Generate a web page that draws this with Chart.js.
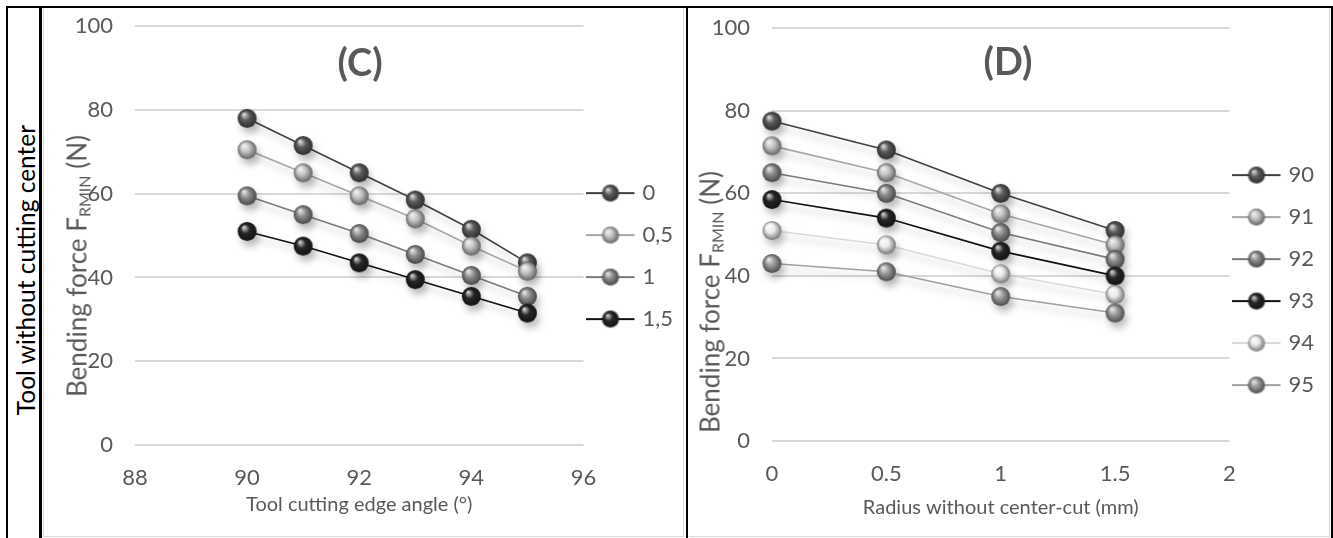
<!DOCTYPE html>
<html>
<head>
<meta charset="utf-8">
<script src="https://cdn.jsdelivr.net/npm/chart.js@4.4.0/dist/chart.umd.min.js"></script>
<style>
    html, body { margin: 0; padding: 0; background: #fff; }
    body { width: 1333px; height: 538px; position: relative; overflow: hidden; font-family: Lato, sans-serif; }
    .line { position: absolute; background: #000; }
    .gray { position: absolute; background: #d9d9d9; }
    .box { position: absolute; width: 639px; }
    .ytitle { position: absolute; transform: translate(-50%, -50%) rotate(-90deg); white-space: nowrap; color: #595959; font-size: 26px; }
    .ytitle sub { font-size: 16px; vertical-align: -4px; }
    .ctitle { position: absolute; transform: translate(-50%, -50%); font-weight: bold; font-size: 38px; color: #595959; }
    .side { position: absolute; transform: translate(-50%, -50%) rotate(-90deg); white-space: nowrap; color: #000; font-size: 24.5px; }
</style>
</head>
<body>
<!-- frame lines -->
<div class="line" style="left:6px;top:6px;width:1327px;height:2px"></div>
<div class="line" style="left:6px;top:6px;width:2px;height:532px"></div>
<div class="line" style="left:39px;top:6px;width:3px;height:532px"></div>
<div class="line" style="left:686px;top:6px;width:2px;height:532px"></div>
<div class="line" style="left:1331px;top:6px;width:2px;height:532px"></div>
<div class="gray" style="left:43px;top:8px;width:1px;height:529px"></div>
<div class="gray" style="left:683px;top:8px;width:1px;height:529px"></div>
<div class="gray" style="left:43px;top:536px;width:641px;height:1px"></div>
<div class="gray" style="left:1329px;top:8px;width:1px;height:529px"></div>
<div class="gray" style="left:689px;top:536px;width:641px;height:1px"></div>

<div class="side" style="left:25px;top:270px">Tool without cutting center</div>

<!-- chart boxes start a bit above the frame so the plot top lands on the 100 line -->
<div class="box" style="left:44px;top:-9px;height:545px"><canvas id="chartC"></canvas></div>
<div class="box" style="left:689px;top:-7px;height:543px"><canvas id="chartD"></canvas></div>

<div class="ytitle" style="left:77px;top:266px">Bending force F<sub>RMIN</sub> (N)</div>
<div class="ytitle" style="left:710px;top:302px">Bending force F<sub>RMIN</sub> (N)</div>
<div class="ctitle" style="left:360px;top:61px">(C)</div>
<div class="ctitle" style="left:1008px;top:60px">(D)</div>

<script>
// Chart (C): bending force vs tool cutting edge angle, one series per radius
const angleC = [90, 91, 92, 93, 94, 95];
const radiusNames = ['0', '0,5', '1', '1,5'];
const forceR0 = [78, 71.5, 65, 58.5, 51.5, 43.5];
const forceR05 = [70.5, 65, 59.5, 54, 47.5, 41.5];
const forceR1 = [59.5, 55, 50.5, 45.5, 40.5, 35.5];
const forceR15 = [51, 47.5, 43.5, 39.5, 35.5, 31.5];

// Chart (D): bending force vs radius, one series per angle
const radiusD = [0, 0.5, 1, 1.5];
const angleNames = ['90', '91', '92', '93', '94', '95'];
const forceA90 = [77.5, 70.5, 60, 51];
const forceA91 = [71.5, 65, 55, 47.5];
const forceA92 = [65, 60, 50.5, 44];
const forceA93 = [58.5, 54, 46, 40];
const forceA94 = [51, 47.5, 40.5, 35.5];
const forceA95 = [43, 41, 35, 31];

// Axis ticks
const yTicks = [0, 20, 40, 60, 80, 100];
const xTicksC = [88, 90, 92, 94, 96];
const xTicksD = [0, 0.5, 1, 1.5, 2];

// grey shades (line colour, marker colour)
const linesC = ['#404040', '#a6a6a6', '#7a7a7a', '#111111'];
const markersC = ['#5a5a5a', '#c4c4c4', '#8c8c8c', '#262626'];
const linesD = ['#404040', '#a6a6a6', '#7a7a7a', '#111111', '#d9d9d9', '#a0a0a0'];
const markersD = ['#5a5a5a', '#c4c4c4', '#8c8c8c', '#262626', '#ececec', '#9a9a9a'];

const TEXT = '#595959';
const FONT = 'Lato';

function shade(hex, amt) {
    const v = parseInt(hex.slice(1, 3), 16);
    const n = amt > 0 ? v + (255 - v) * amt : v * (1 + amt);
    const h = Math.round(n).toString(16).padStart(2, '0');
    return '#' + h + h + h;
}

// 3D looking ball used as the point marker
function makeSphere(base, r) {
    const size = Math.ceil(r * 2 + 2);
    const c = document.createElement('canvas');
    c.width = size;
    c.height = size;
    const ctx = c.getContext('2d');
    const cx = size / 2, cy = size / 2;
    const g = ctx.createRadialGradient(cx - r * 0.35, cy - r * 0.45, r * 0.05, cx, cy, r);
    g.addColorStop(0, shade(base, 0.8));
    g.addColorStop(0.45, base);
    g.addColorStop(1, shade(base, -0.5));
    ctx.fillStyle = g;
    ctx.beginPath();
    ctx.arc(cx, cy, r, 0, Math.PI * 2);
    ctx.fill();
    return c;
}

// legend icon: short line with a ball in the middle (drawn on the left of a wider canvas)
function makeLegendIcon(lineColor, base) {
    const c = document.createElement('canvas');
    c.width = 62;
    c.height = 22;
    const ctx = c.getContext('2d');
    ctx.strokeStyle = lineColor;
    ctx.lineWidth = 2;
    ctx.beginPath();
    ctx.moveTo(0, 11);
    ctx.lineTo(48, 11);
    ctx.stroke();
    const s = makeSphere(base, 8.5);
    ctx.drawImage(s, 24 - s.width / 2, 11 - s.height / 2);
    return c;
}

const shadowPlugin = {
    id: 'softShadow',
    beforeDatasetsDraw(chart) {
        const ctx = chart.ctx;
        ctx.save();
        ctx.shadowColor = 'rgba(0,0,0,0.25)';
        ctx.shadowBlur = 7;
        ctx.shadowOffsetX = 3;
        ctx.shadowOffsetY = 6;
    },
    afterDatasetsDraw(chart) {
        chart.ctx.restore();
    }
};

function makeDatasets(xs, series, names, lineCols, markerCols) {
    return series.map((vals, i) => ({
        label: names[i],
        data: xs.map((x, j) => ({ x: x, y: vals[j] })),
        borderColor: lineCols[i],
        backgroundColor: markerCols[i],
        borderWidth: 1.6,
        pointStyle: makeSphere(markerCols[i], 9.5),
        pointRadius: 9,
        pointHoverRadius: 9,
        legendIcon: makeLegendIcon(lineCols[i], markerCols[i]),
        order: series.length - i,
        clip: false
    }));
}

function buildChart(id, opts) {
    const ctx = document.getElementById(id).getContext('2d');
    return new Chart(ctx, {
        type: 'line',
        data: { datasets: opts.datasets },
        plugins: [shadowPlugin],
        options: {
            responsive: true,
            maintainAspectRatio: false,
            animation: false,
            locale: 'en-US',
            layout: { padding: { top: 0, right: opts.right, left: 0, bottom: 0 } },
            plugins: {
                tooltip: { enabled: false },
                legend: {
                    position: 'right',
                    fullSize: false,
                    title: { display: true, text: '', font: { size: 10 }, padding: { top: opts.legendShift, bottom: opts.legendShift } },
                    labels: {
                        usePointStyle: true,
                        pointStyleWidth: 28,
                        padding: 20,
                        color: TEXT,
                        font: { family: FONT, size: 22 },
                        sort: (a, b) => a.datasetIndex - b.datasetIndex,
                        generateLabels: (chart) => {
                            const items = Chart.defaults.plugins.legend.labels.generateLabels(chart);
                            items.forEach(it => {
                                it.pointStyle = chart.data.datasets[it.datasetIndex].legendIcon;
                            });
                            return items;
                        }
                    }
                }
            },
            scales: {
                x: {
                    type: 'linear',
                    min: opts.xTicks[0],
                    max: opts.xTicks[opts.xTicks.length - 1],
                    afterBuildTicks: (scale) => { scale.ticks = opts.xTicks.map(v => ({ value: v })); },
                    afterFit: (scale) => { scale.height = opts.xHeight; },
                    grid: { display: false, drawTicks: false },
                    border: { display: false },
                    ticks: {
                        color: TEXT,
                        font: { family: FONT, size: 22 },
                        padding: 20,
                        callback: (v) => String(v)
                    },
                    title: {
                        display: true,
                        text: opts.xTitle,
                        color: TEXT,
                        font: { family: FONT, size: 20 },
                        padding: { top: 0, bottom: opts.xTitlePad }
                    }
                },
                y: {
                    min: 0,
                    max: 100,
                    afterBuildTicks: (scale) => { scale.ticks = yTicks.map(v => ({ value: v })); },
                    afterFit: (scale) => { scale.width = opts.yWidth; },
                    grid: { color: '#d9d9d9', lineWidth: 2, drawTicks: false },
                    border: { display: false },
                    ticks: { color: TEXT, font: { family: FONT, size: 22 }, padding: 22 }
                }
            }
        }
    });
}

buildChart('chartC', {
    datasets: makeDatasets(angleC, [forceR0, forceR05, forceR1, forceR15], radiusNames, linesC, markersC),
    xTicks: xTicksC,
    xTitle: 'Tool cutting edge angle (°)',
    right: 0,
    yWidth: 91,
    xHeight: 91,
    xTitlePad: 19,
    legendShift: 14.5
});

buildChart('chartD', {
    datasets: makeDatasets(radiusD, [forceA90, forceA91, forceA92, forceA93, forceA94, forceA95], angleNames, linesD, markersD),
    xTicks: xTicksD,
    xTitle: 'Radius without center-cut (mm)',
    right: 4,
    yWidth: 83,
    xHeight: 95,
    xTitlePad: 16,
    legendShift: 39.5
});
</script>
</body>
</html>
